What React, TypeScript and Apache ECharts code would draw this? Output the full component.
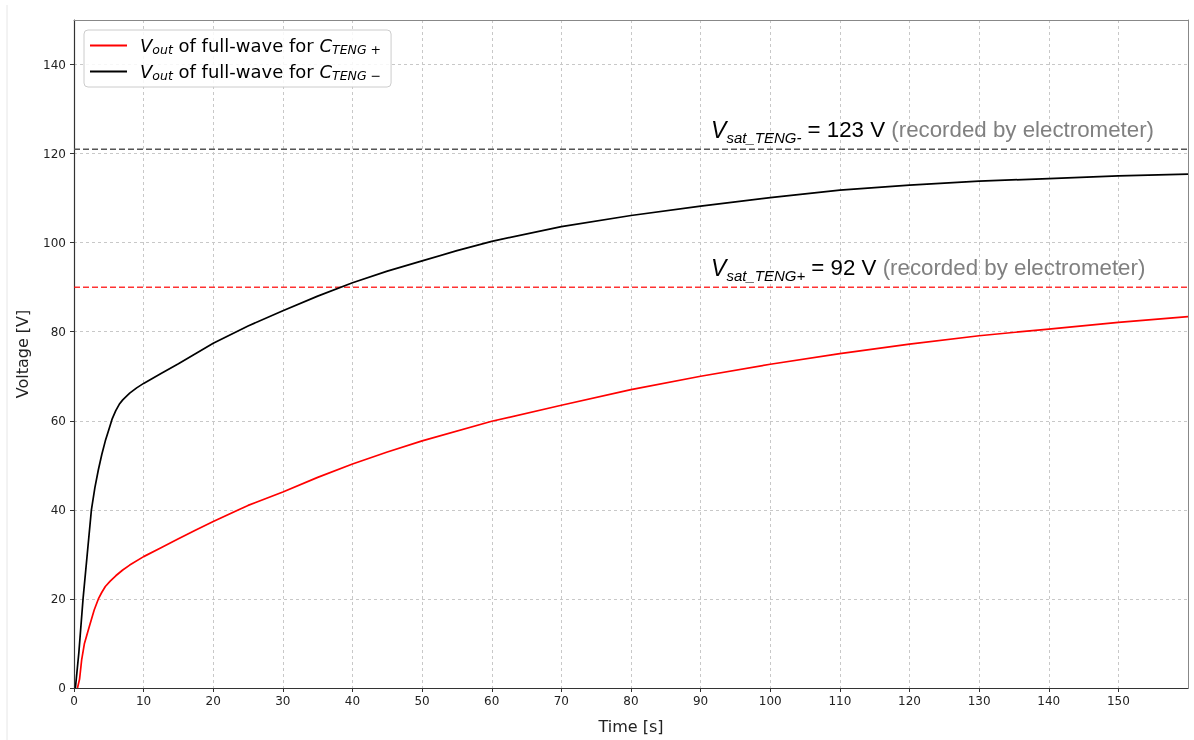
import React, { useEffect, useRef } from 'react';
import * as echarts from 'echarts';

// C_TENG- (black) curve
const blackTime = [0.2, 0.7, 1.3, 1.9, 2.5, 3, 3.5, 4, 4.5, 5, 5.5, 6, 6.5, 7, 8, 9, 10, 12.5, 15, 17.5, 20, 25, 30, 35, 40, 45, 50, 55, 60, 70, 80, 90, 100, 110, 120, 130, 140, 150, 160];
const blackVolt = [0, 8, 20, 30, 40, 45, 49, 52.5, 55.5, 58, 60.5, 62.3, 63.7, 64.7, 66.2, 67.4, 68.4, 70.6, 72.8, 75.1, 77.4, 81.3, 84.7, 88.0, 91.0, 93.6, 95.9, 98.2, 100.3, 103.6, 106.1, 108.2, 110.1, 111.8, 112.9, 113.8, 114.4, 115.0, 115.4];

// C_TENG+ (red) curve
const redTime = [0.5, 0.8, 1.1, 1.5, 2.2, 2.9, 3.5, 4, 4.5, 5.2, 6, 7, 8, 10, 12.5, 15, 17.5, 20, 25, 30, 35, 40, 45, 50, 60, 70, 80, 90, 100, 110, 120, 130, 140, 150, 160];
const redVolt = [0, 2, 6.3, 10, 13.8, 17.5, 20, 21.5, 22.8, 24, 25.2, 26.5, 27.6, 29.5, 31.5, 33.5, 35.5, 37.4, 41, 44, 47.3, 50.3, 53, 55.5, 59.9, 63.5, 67, 70, 72.7, 75.1, 77.2, 79.1, 80.6, 82.1, 83.4];

// saturation reference lines
const satNeg = 121;
const satPos = 90;
const satNegLabel = '123 V';
const satPosLabel = '92 V';
const annotationTime = 91.5;

const xTicks = [0, 10, 20, 30, 40, 50, 60, 70, 80, 90, 100, 110, 120, 130, 140, 150];
const yTicks = [0, 20, 40, 60, 80, 100, 120, 140];

const nameRed = 'Vout of full-wave for C_TENG+';
const nameBlack = 'Vout of full-wave for C_TENG-';

const pairs = (t: number[], v: number[]) => t.map((x, i) => [x, v[i]]);

export default function App() {
  const ref = useRef<HTMLDivElement>(null);
  useEffect(() => {
    const chart = echarts.init(ref.current!, null, { renderer: 'svg' });
    const tickFont = { fontFamily: 'DejaVu Sans', fontSize: 12, color: '#222' };
    const legendRich = {
      v: { fontFamily: 'DejaVu Sans', fontStyle: 'italic', fontSize: 18, color: '#000', padding: [0, 0, 0, 8], lineHeight: 22 },
      c: { fontFamily: 'DejaVu Sans', fontStyle: 'italic', fontSize: 18, color: '#000', lineHeight: 22 },
      s: { fontFamily: 'DejaVu Sans', fontStyle: 'italic', fontSize: 12.5, color: '#000', padding: [8, 0, 0, 0], lineHeight: 14 },
      n: { fontFamily: 'DejaVu Sans', fontSize: 18, color: '#000', lineHeight: 22 },
    };
    const option: any = {
      animation: false,
      grid: { left: 74, right: 6, top: 20, bottom: 52 },
      legend: {
        data: [nameRed, nameBlack],
        left: 84,
        top: 30,
        orient: 'vertical',
        itemWidth: 37,
        itemHeight: 2,
        itemGap: 5,
        icon: 'rect',
        padding: [5, 10, 5, 6],
        backgroundColor: 'rgba(255,255,255,0.85)',
        borderColor: '#cccccc',
        borderWidth: 1,
        borderRadius: 4,
        formatter: (name: string) =>
          name === nameRed
            ? '{v|V}{s|out}{n| of full-wave for }{c|C}{s|TENG +}'
            : '{v|V}{s|out}{n| of full-wave for }{c|C}{s|TENG −}',
        textStyle: { rich: legendRich },
      },
      xAxis: [
        {
          type: 'value',
          min: 0,
          max: 160,
          interval: 10,
          name: 'Time [s]',
          nameLocation: 'middle',
          nameGap: 30,
          nameTextStyle: { fontFamily: 'DejaVu Sans', fontSize: 16, color: '#222' },
          axisLine: { show: true, onZero: false, lineStyle: { color: '#333', width: 1.2 } },
          axisTick: { show: true, length: 4, lineStyle: { color: '#333' }, customValues: xTicks },
          axisLabel: { ...tickFont, margin: 7, customValues: xTicks },
          splitLine: { show: true, lineStyle: { type: [3, 3], color: '#c8c8c8', width: 1 } },
        },
        {
          type: 'value',
          position: 'top',
          min: 0,
          max: 160,
          axisLine: { show: true, onZero: false, lineStyle: { color: '#888', width: 1 } },
          axisTick: { show: false },
          axisLabel: { show: false },
          splitLine: { show: false },
        },
      ],
      yAxis: [
        {
          type: 'value',
          min: 0,
          max: 150,
          interval: 20,
          name: 'Voltage [V]',
          nameLocation: 'middle',
          nameGap: 44,
          nameTextStyle: { fontFamily: 'DejaVu Sans', fontSize: 16, color: '#222' },
          axisLine: { show: true, onZero: false, lineStyle: { color: '#333', width: 1.2 } },
          axisTick: { show: true, length: 4, lineStyle: { color: '#333' }, customValues: yTicks },
          axisLabel: { ...tickFont, margin: 8, customValues: yTicks },
          splitLine: { show: true, lineStyle: { type: [3, 3], color: '#c8c8c8', width: 1 } },
        },
        {
          type: 'value',
          position: 'right',
          min: 0,
          max: 150,
          axisLine: { show: true, onZero: false, lineStyle: { color: '#888', width: 1 } },
          axisTick: { show: false },
          axisLabel: { show: false },
          splitLine: { show: false },
        },
      ],
      series: [
        {
          name: 'satNeg',
          type: 'line',
          data: [[0, satNeg], [160, satNeg]],
          showSymbol: false,
          silent: true,
          lineStyle: { type: [6, 3], color: '#555', width: 1.5 },
        },
        {
          name: 'satPos',
          type: 'line',
          data: [[0, satPos], [160, satPos]],
          showSymbol: false,
          silent: true,
          lineStyle: { type: [6, 3], color: 'rgba(255,0,0,0.8)', width: 1.5 },
        },
        {
          name: nameRed,
          type: 'line',
          data: pairs(redTime, redVolt),
          showSymbol: false,
          smooth: false,
          color: '#ff0000',
          lineStyle: { color: '#ff0000', width: 1.7 },
        },
        {
          name: nameBlack,
          type: 'line',
          data: pairs(blackTime, blackVolt),
          showSymbol: false,
          smooth: false,
          color: '#000000',
          lineStyle: { color: '#000000', width: 1.7 },
        },
      ],
    };
    chart.setOption(option);

    const annRich = {
      v: { fontFamily: 'Liberation Sans', fontStyle: 'italic', fontSize: 23, fill: '#000', lineHeight: 27 },
      s: { fontFamily: 'Liberation Sans', fontStyle: 'italic', fontSize: 15, fill: '#000', lineHeight: 17, padding: [15, 0, 0, 0] },
      n: { fontFamily: 'Liberation Sans', fontSize: 22.3, fill: '#000', lineHeight: 27 },
      g: { fontFamily: 'Liberation Sans', fontSize: 22.3, fill: '#808080', lineHeight: 27 },
    };
    const makeAnn = (level: number, sub: string, val: string) => {
      const [px, py] = chart.convertToPixel({ xAxisIndex: 0, yAxisIndex: 0 }, [annotationTime, level]);
      return {
        type: 'text',
        x: px,
        y: py - 19.5,
        z: 100,
        style: {
          text: `{v|V}{s|${sub}}{n| = ${val} }{g|(recorded by electrometer)}`,
          rich: annRich,
          align: 'left',
          verticalAlign: 'middle',
        },
      };
    };
    chart.setOption({
      graphic: [
        { type: 'line', shape: { x1: 7, y1: 5, x2: 7, y2: 740 }, style: { stroke: '#e6e6e6', lineWidth: 1 } },
        makeAnn(satNeg, 'sat_TENG-', satNegLabel),
        makeAnn(satPos, 'sat_TENG+', satPosLabel),
      ],
    });
    return () => chart.dispose();
  }, []);
  return <div ref={ref} style={{ position: 'fixed', left: 0, top: 0, width: 1194, height: 740 }} />;
}
